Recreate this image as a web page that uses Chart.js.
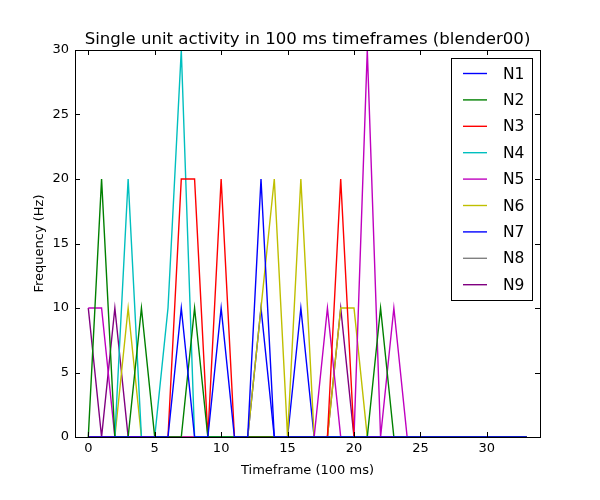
<!DOCTYPE html>
<html>
<head>
    <title>Single unit activity</title>
    <style>
        body { margin: 0; background: #ffffff; }
        #wrap { width: 600px; height: 500px; }
    </style>
    <script src="https://cdn.jsdelivr.net/npm/chart.js"></script>
</head>
<body>
    <div id="wrap"><canvas id="activityChart" width="600" height="500"></canvas></div>
    <script>
        // timeframes (100 ms each)
        const timeframes = [0,1,2,3,4,5,6,7,8,9,10,11,12,13,14,15,16,17,18,19,20,21,22,23,24,25,26,27,28,29,30,31,32,33];

        // frequency per neuron (Hz)
        const n1 = [0,0,0,0,0,0,0,10,0,0, 10,0,0,20,0,0,0,0,0,0, 0,0,0,0,0,0,0,0,0,0, 0,0,0,0];
        const n2 = [0,20,0,0,10,0,0,0,10,0, 0,0,0,0,0,0,0,0,0,0, 0,0,10,0,0,0,0,0,0,0, 0,0,0,0];
        const n3 = [0,0,0,0,0,0,0,20,20,0, 20,0,0,0,0,0,0,0,0,20, 0,0,0,0,0,0,0,0,0,0, 0,0,0,0];
        const n4 = [0,0,0,20,0,0,10,30,0,0, 0,0,0,0,0,0,0,0,0,0, 0,0,0,0,0,0,0,0,0,0, 0,0,0,0];
        const n5 = [10,10,0,0,0,0,0,0,0,0, 0,0,0,0,0,0,0,0,10,0, 0,30,0,10,0,0,0,0,0,0, 0,0,0,0];
        const n6 = [0,0,0,10,0,0,0,0,0,0, 0,0,0,10,20,0,20,0,0,10, 10,0,0,0,0,0,0,0,0,0, 0,0,0,0];
        const n7 = [0,0,0,0,0,0,0,0,0,0, 0,0,0,10,0,0,10,0,0,0, 0,0,0,0,0,0,0,0,0,0, 0,0,0,0];
        const n8 = [0,0,0,0,0,0,0,0,0,0, 0,0,0,0,0,0,0,0,0,0, 0,0,0,0,0,0,0,0,0,0, 0,0,0,0];
        const n9 = [10,0,10,0,0,0,0,0,0,0, 0,0,0,0,0,0,0,0,0,10, 0,0,0,0,0,0,0,0,0,0, 0,0,0,0];

        const seriesNames = ['N1','N2','N3','N4','N5','N6','N7','N8','N9'];
        const seriesValues = [n1, n2, n3, n4, n5, n6, n7, n8, n9];
        const seriesColors = ['#0000ff','#008000','#ff0000','#00bfbf','#bf00bf','#bfbf00','#0000ff','#808080','#800080'];

        const xTicks = [0, 5, 10, 15, 20, 25, 30];
        const yTicks = [0, 5, 10, 15, 20, 25, 30];

        const chartTitle = 'Single unit activity in 100 ms timeframes (blender00)';

        Chart.defaults.font.family = '"DejaVu Sans", sans-serif';
        Chart.defaults.color = '#000000';

        // box around the axes with inward ticks on every side, plus the title centred on the axes
        const framePlugin = {
            id: 'frame',
            afterDatasetsDraw(chart) {
                const ctx = chart.ctx;
                const a = chart.chartArea;
                const xs = chart.scales.x, ys = chart.scales.y;
                const len = 5;
                ctx.save();
                ctx.strokeStyle = '#000000';
                ctx.lineWidth = 1;
                ctx.strokeRect(a.left + 0.5, a.top + 0.5, a.right - a.left, a.bottom - a.top);
                ctx.beginPath();
                xTicks.forEach(v => {
                    const px = Math.round(xs.getPixelForValue(v)) + 0.5;
                    ctx.moveTo(px, a.bottom); ctx.lineTo(px, a.bottom - len);
                    ctx.moveTo(px, a.top); ctx.lineTo(px, a.top + len);
                });
                yTicks.forEach(v => {
                    const py = Math.round(ys.getPixelForValue(v)) + 0.5;
                    ctx.moveTo(a.left, py); ctx.lineTo(a.left + len, py);
                    ctx.moveTo(a.right, py); ctx.lineTo(a.right - len, py);
                });
                ctx.stroke();

                ctx.fillStyle = '#000000';
                ctx.font = '16.6px "DejaVu Sans", sans-serif';
                ctx.textAlign = 'center';
                ctx.textBaseline = 'alphabetic';
                ctx.fillText(chartTitle, (a.left + a.right) / 2, a.top - 6);
                ctx.restore();
            }
        };

        // legend box in the upper right corner of the axes
        const boxLegend = {
            id: 'boxLegend',
            afterDraw(chart) {
                const ctx = chart.ctx;
                const a = chart.chartArea;
                const w = 81, h = 242;
                const x0 = a.right - 8 - w, y0 = a.top + 8;
                ctx.save();
                ctx.fillStyle = '#ffffff';
                ctx.fillRect(x0, y0, w, h);
                ctx.strokeStyle = '#000000';
                ctx.lineWidth = 1;
                ctx.strokeRect(x0 + 0.5, y0 + 0.5, w, h);
                ctx.font = '15.5px "DejaVu Sans", sans-serif';
                ctx.textBaseline = 'middle';
                chart.data.datasets.forEach((ds, i) => {
                    const cy = y0 + 15.5 + i * 26.4;
                    ctx.strokeStyle = ds.borderColor;
                    ctx.lineWidth = 1.4;
                    ctx.beginPath();
                    ctx.moveTo(x0 + 12, cy);
                    ctx.lineTo(x0 + 36, cy);
                    ctx.stroke();
                    ctx.fillStyle = '#000000';
                    ctx.fillText(ds.label, x0 + 52, cy + 1);
                });
                ctx.restore();
            }
        };

        const datasets = seriesNames.map((name, i) => ({
            label: name,
            data: timeframes.map((t, j) => ({ x: t, y: seriesValues[i][j] })),
            borderColor: seriesColors[i],
            backgroundColor: seriesColors[i],
            borderWidth: 1.4,
            pointRadius: 0,
            tension: 0,
            fill: false
        }));

        new Chart(document.getElementById('activityChart').getContext('2d'), {
            type: 'line',
            data: { datasets: datasets },
            plugins: [framePlugin, boxLegend],
            options: {
                responsive: false,
                animation: false,
                layout: { padding: { left: 0, right: 60, top: 50, bottom: 0 } },
                plugins: {
                    legend: { display: false },
                    tooltip: { enabled: false },
                    title: { display: false }
                },
                scales: {
                    x: {
                        type: 'linear',
                        min: -1,
                        max: 34,
                        afterFit(scale) { scale.height = 63; },
                        afterBuildTicks(scale) { scale.ticks = xTicks.map(v => ({ value: v })); },
                        grid: { display: false, drawTicks: false },
                        border: { display: false },
                        ticks: { padding: 4, font: { size: 13 }, maxRotation: 0 },
                        title: { display: true, text: 'Timeframe (100 ms)', font: { size: 13 }, padding: { top: 4, bottom: 22 } }
                    },
                    y: {
                        min: 0,
                        max: 30,
                        afterFit(scale) { scale.width = 75; },
                        afterBuildTicks(scale) { scale.ticks = yTicks.map(v => ({ value: v })); },
                        grid: { display: false, drawTicks: false },
                        border: { display: false },
                        ticks: { padding: 6, font: { size: 13 } },
                        title: { display: true, text: 'Frequency (Hz)', font: { size: 13 }, padding: { top: 32, bottom: 4 } }
                    }
                }
            }
        });
    </script>
</body>
</html>
